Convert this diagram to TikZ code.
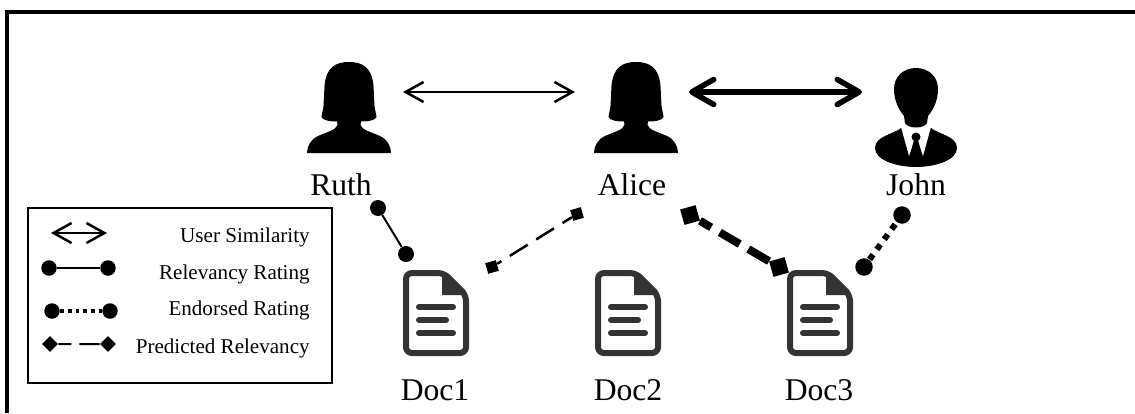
\documentclass[tikz,border=0pt]{standalone}
\usepackage{fontspec}
\setmainfont{Liberation Serif}
\usetikzlibrary{arrows.meta}
\definecolor{docgray}{HTML}{333333}
\tikzset{
	iconlabel/.style={anchor=base, inner sep=0pt, font=\fontsize{18}{20}\selectfont},
	legendtext/.style={anchor=base east, inner sep=0pt, font=\fontsize{12}{14}\selectfont},
	dot/.style={circle, fill, inner sep=0pt, minimum size=#1},
	block/.style={rectangle, fill, inner sep=0pt, minimum size=#1, rotate=16},
	gem/.style={rectangle, fill, inner sep=0pt, minimum size=2.2mm, rotate=45},
	similar/.style={{Straight Barb[length=3.6mm,width=4mm,line width=0.5mm]}-{Straight Barb[length=3.6mm,width=4mm,line width=0.5mm]}, line width=0.45mm},
	similarstrong/.style={{Straight Barb[length=4.4mm,width=5mm,round]}-{Straight Barb[length=4.4mm,width=5mm,round]}, line width=1.1mm},
	femaleicon/.pic={
		\fill (0,0) .. controls (13,0) and (23,5) .. (24.5,24) -- (25.5,44) .. controls (26,48) and (27,51) .. (27.5,55)
			.. controls (27,58) and (18,60) .. (12,59.5) -- (11.5,63) .. controls (13,68) and (22,70) .. (31,74)
			.. controls (38,77) and (42,84) .. (42,91) -- (-42,91) .. controls (-42,84) and (-38,77) .. (-31,74)
			.. controls (-22,70) and (-13,68) .. (-11.5,63) -- (-12,59.5) .. controls (-18,60) and (-27,58) .. (-27.5,55)
			.. controls (-27,51) and (-26,48) .. (-25.5,44) -- (-24.5,24) .. controls (-23,5) and (-13,0) .. (0,0) -- cycle;
	},
	maleicon/.pic={
		\fill (-15,60) .. controls (-22,66) and (-41,68) .. (-41,80) .. controls (-41,92) and (-20,99) .. (0,99)
			.. controls (20,99) and (41,92) .. (41,80) .. controls (41,68) and (22,66) .. (15,60) -- cycle;
		\fill[white] (-15,59) -- (-7,88) -- (0,70) -- (7,88) -- (15,59) -- cycle;
		\fill (0,0) .. controls (13,0) and (22,9) .. (22,21) .. controls (22,33) and (17,42) .. (12,48) -- (11,55)
			.. controls (8,61) and (-8,61) .. (-11,55) -- (-12,48) .. controls (-17,42) and (-22,33) .. (-22,21)
			.. controls (-22,9) and (-13,0) .. (0,0) -- cycle;
		\fill (0,69) circle (4.5);
		\fill (-2,72) -- (2,72) -- (7,90) -- (0,97) -- (-7,90) -- cycle;
	},
	docicon/.pic={
		\draw[docgray, line width=1.2mm, rounded corners=1.2mm] (3,3) -- (41,3) -- (63,25) -- (63,83) -- (3,83) -- cycle;
		\fill[docgray] (39,2) -- (39,25) -- (64,25) -- cycle;
		\draw[docgray, line width=1.2mm, line cap=round] (16,37) -- (50,37);
		\draw[docgray, line width=1.2mm, line cap=round] (16,50) -- (43,50);
		\draw[docgray, line width=1.2mm, line cap=round] (16,63) -- (50,63);
	}
}
\begin{document}
\begin{tikzpicture}[x=0.02cm, y=-0.02cm]
		\useasboundingbox (0,0) rectangle (1135,413);
		\fill[white] (0,0) rectangle (1135,413);
		\draw[line width=0.8mm] (1135,12) -- (7,12) -- (7,413);
		\draw[line width=0.4mm] (28,208) rectangle (332,383);

		\pic at (349,62) {femaleicon};
		\pic at (636,62) {femaleicon};
		\pic at (916,68) {maleicon};
		\pic at (403,270) {docicon};
		\pic at (595,270) {docicon};
		\pic at (787,270) {docicon};

		\node[iconlabel] (ruth) at (341,195) {Ruth};
		\node[iconlabel] (alice) at (632,195) {Alice};
		\node[iconlabel] (john) at (916,195) {John};
		\node[iconlabel] (doc1) at (435,400) {Doc1};
		\node[iconlabel] (doc2) at (628,400) {Doc2};
		\node[iconlabel] (doc3) at (819,400) {Doc3};

		\coordinate (ruthright) at (403,92);
		\coordinate (aliceleft) at (575,92);
		\coordinate (aliceright) at (689,92);
		\coordinate (johnleft) at (862,92);
		\draw[similar] (ruthright) -- (aliceleft);
		\draw[similarstrong] (aliceright) -- (johnleft);

		\node[dot=3.2mm] (ruthdot) at (378,208) {};
		\node[dot=3.2mm] (doc1dot) at (406,254) {};
		\draw[line width=0.4mm] (ruthdot) -- (doc1dot);

		\node[block=2.2mm] (aliceend) at (577,214) {};
		\node[block=2.2mm] (doc1end) at (492,267) {};
		\draw[line width=0.5mm, dash pattern=on 2.2mm off 2mm on 4.2mm off 2mm on 4.2mm off 2mm on 3mm off 1mm] (aliceend) -- (doc1end);

		\node[block=3.2mm] (alicepred) at (690,215) {};
		\node[block=3.2mm] (doc3pred) at (779,267) {};
		\draw[line width=1.6mm, dash pattern=on 2.6mm off 2mm on 4.6mm off 2mm on 6mm off 1mm] (alicepred) -- (doc3pred);

		\node[dot=3.5mm] (johndot) at (902,215) {};
		\node[dot=3.5mm] (doc3dot) at (864,267) {};
		\draw[line width=1.2mm, dash pattern=on 1.2mm off 1.3mm, dash phase=2mm] (johndot) -- (doc3dot);

		\coordinate (simleft) at (51,233);
		\coordinate (simright) at (107,233);
		\draw[similar] (simleft) -- (simright);
		\node[legendtext] (simtext) at (310,242) {User Similarity};

		\node[dot=3.1mm] (relleft) at (49,268) {};
		\node[dot=3.1mm] (relright) at (108,268) {};
		\draw[line width=0.4mm] (relleft) -- (relright);
		\node[legendtext] (reltext) at (310,279) {Relevancy Rating};

		\node[dot=3.1mm] (endleft) at (52,311) {};
		\node[dot=3.1mm] (endright) at (110,311) {};
		\draw[line width=0.7mm, dash pattern=on 0.75mm off 0.8mm] (endleft) -- (endright);
		\node[legendtext] (endtext) at (310,315) {Endorsed Rating};

		\node[gem] (predleft) at (50,344) {};
		\node[gem] (predright) at (108,344) {};
		\draw[line width=0.4mm, dash pattern=on 2.6mm off 1.6mm on 6mm off 1mm] (predleft) -- (predright);
		\node[legendtext] (predtext) at (310,353) {Predicted Relevancy};
		\end{tikzpicture}
\end{document}
